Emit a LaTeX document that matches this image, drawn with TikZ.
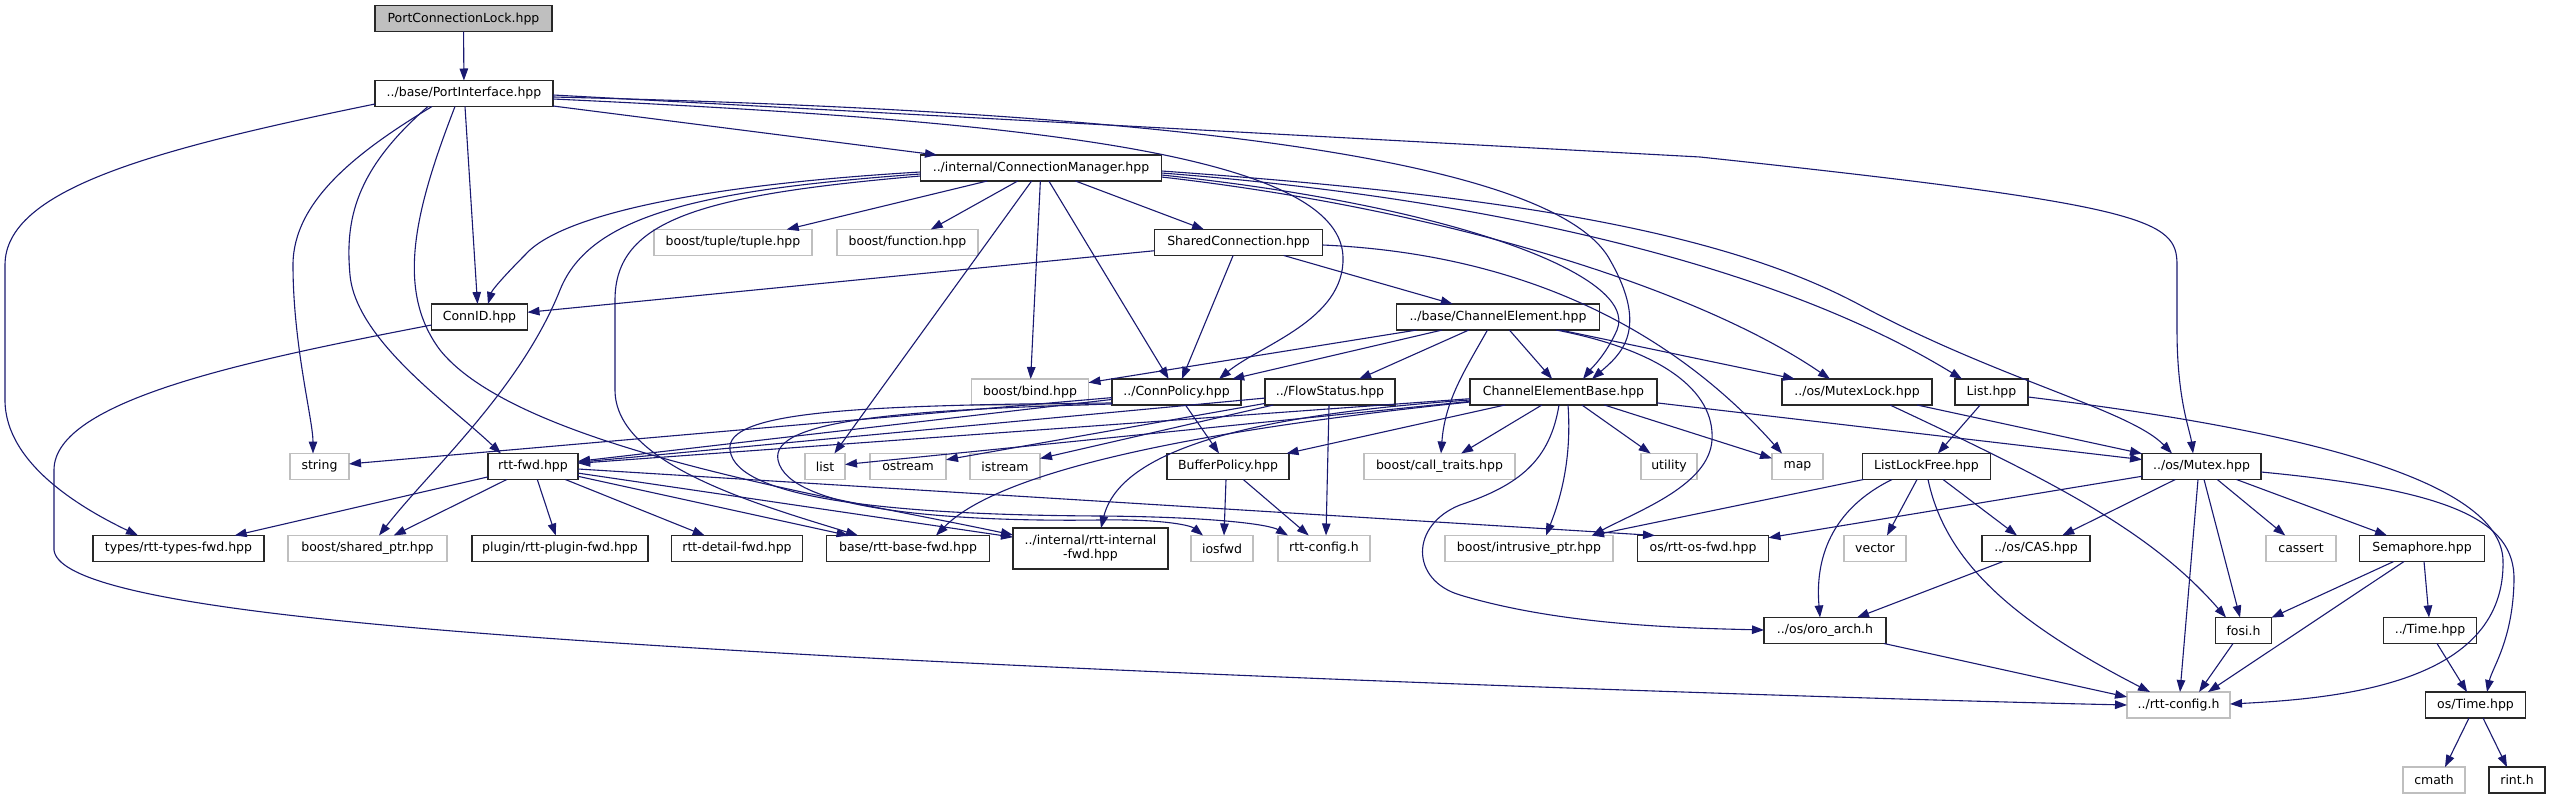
\documentclass[tikz,border=0pt]{standalone}
\usepackage{fontspec}
\setmainfont{DejaVu Sans}
\usetikzlibrary{arrows.meta}
\definecolor{edgec}{RGB}{25,25,112}
\definecolor{grayb}{RGB}{191,191,191}
\definecolor{mainfill}{RGB}{191,191,191}
\definecolor{docb}{RGB}{40,40,40}
\begin{document}
\begin{tikzpicture}[x=1pt,y=-1pt,
  box/.style={rectangle,inner sep=0pt,outer sep=0pt,minimum height=26pt,font=\fontsize{12.5}{14}\selectfont},
  doc/.style={box,draw=docb,line width=1.1pt},
  sys/.style={box,draw=grayb,line width=1.1pt},
  e/.style={draw=edgec,line width=1.1pt,-{Triangle[length=12pt,width=8.5pt]}}]
\useasboundingbox (0,0) rectangle (2550,799);
\fill[white] (0,0) rectangle (2550,799);

% ---- nodes ----
\node[doc,fill=mainfill,minimum width=177pt] (pcl) at (463.5,18.7) {PortConnectionLock.hpp};
\node[doc,minimum width=178pt] (pi) at (464,93.5) {../base/PortInterface.hpp};
\node[doc,minimum width=241pt] (cm) at (1041,168) {../internal/ConnectionManager.hpp};

\node[sys,minimum width=158pt] (tuple) at (733,242.5) {boost/tuple/tuple.hpp};
\node[sys,minimum width=141pt] (func) at (907.5,242.5) {boost/function.hpp};
\node[doc,minimum width=168pt] (shc) at (1238.5,242.5) {SharedConnection.hpp};

\node[doc,minimum width=96pt] (connid) at (479.5,317) {ConnID.hpp};
\node[doc,minimum width=203pt] (che) at (1498,317) {../base/ChannelElement.hpp};

\node[sys,minimum width=117pt] (bind) at (1030,392) {boost/bind.hpp};
\node[doc,minimum width=129pt] (cpol) at (1176.5,392) {../ConnPolicy.hpp};
\node[doc,minimum width=130pt] (flow) at (1330,392) {../FlowStatus.hpp};
\node[doc,minimum width=187pt] (ceb) at (1563.5,392) {ChannelElementBase.hpp};
\node[doc,minimum width=150pt] (mlock) at (1857,392) {../os/MutexLock.hpp};
\node[doc,minimum width=73pt] (list) at (1991.5,392) {List.hpp};

\node[sys,minimum width=59pt] (string) at (319.5,466.5) {string};
\node[doc,minimum width=90pt] (rttfwd) at (533,466.5) {rtt-fwd.hpp};
\node[sys,minimum width=40pt] (lst) at (825,466.5) {list};
\node[sys,minimum width=76pt] (ostream) at (908,466.5) {ostream};
\node[sys,minimum width=70pt] (istream) at (1005,466.5) {istream};
\node[doc,minimum width=122pt] (bpol) at (1228,466.5) {BufferPolicy.hpp};
\node[sys,minimum width=151pt] (ctraits) at (1439.5,466.5) {boost/call\_traits.hpp};
\node[sys,minimum width=56pt] (utility) at (1669,466.5) {utility};
\node[sys,minimum width=51pt] (map) at (1797.5,466.5) {map};
\node[doc,minimum width=128pt] (llf) at (1926.5,466.5) {ListLockFree.hpp};
\node[doc,minimum width=119pt] (mutex) at (2201.5,466.5) {../os/Mutex.hpp};

\node[doc,minimum width=171pt] (typesfwd) at (178.5,548.5) {types/rtt-types-fwd.hpp};
\node[sys,minimum width=159pt] (sptr) at (367.5,548.5) {boost/shared\_ptr.hpp};
\node[doc,minimum width=176pt] (pluginfwd) at (560,548.5) {plugin/rtt-plugin-fwd.hpp};
\node[doc,minimum width=131pt] (detailfwd) at (737,548.5) {rtt-detail-fwd.hpp};
\node[doc,minimum width=163pt] (basefwd) at (908,548.5) {base/rtt-base-fwd.hpp};
\node[doc,minimum width=155pt,minimum height=41pt,align=center] (intfwd) at (1090.5,548.5) {../internal/rtt-internal\\-fwd.hpp};
\node[sys,minimum width=62pt] (iosfwd) at (1222,548.5) {iosfwd};
\node[sys,minimum width=92pt] (rttcfg) at (1324,548.5) {rtt-config.h};
\node[sys,minimum width=168pt] (iptr) at (1529,548.5) {boost/intrusive\_ptr.hpp};
\node[doc,minimum width=131pt] (osfwd) at (1703,548.5) {os/rtt-os-fwd.hpp};
\node[sys,minimum width=62pt] (vector) at (1875,548.5) {vector};
\node[doc,minimum width=108pt] (cas) at (2036,548.5) {../os/CAS.hpp};
\node[sys,minimum width=70pt] (cassert) at (2301,548.5) {cassert};
\node[doc,minimum width=125pt] (sem) at (2422,548.5) {Semaphore.hpp};

\node[doc,minimum width=122pt] (oro) at (1825,630.5) {../os/oro\_arch.h};
\node[doc,minimum width=56pt] (fosi) at (2243.5,630.5) {fosi.h};
\node[doc,minimum width=93pt] (time1) at (2430,630.5) {../Time.hpp};

\node[sys,minimum width=103pt] (rcfg2) at (2178.5,705) {../rtt-config.h};
\node[doc,minimum width=100pt] (ostime) at (2475.5,705) {os/Time.hpp};

\node[sys,minimum width=62pt] (cmath) at (2434,780) {cmath};
\node[doc,minimum width=56pt] (rint) at (2517,780) {rint.h};

% ---- edges ----
\draw[e] (pcl) -- (pi);

% PortInterface
\draw[e] (pi.west |- 0,104) .. controls (150,150) and (5,190) .. (5,265) -- (5,400) .. controls (5,465) and (85,510) .. (typesfwd.north -| 138,0);
\draw[e] (pi.south -| 432,0) .. controls (360,150) and (293,200) .. (293,265) .. controls (293,345) and (313,420) .. (string.north -| 313,0);
\draw[e] (pi.south -| 428,0) .. controls (355,170) and (345,220) .. (350,275) .. controls (356,340) and (450,405) .. (rttfwd.north -| 501,0);
\draw[e] (pi.south -| 455,0) .. controls (415,210) and (395,290) .. (440,350) .. controls (520,450) and (850,500) .. (intfwd.west |- 0,535);
\draw[e] (pi.south -| 465,0) -- (connid.north -| 477.5,0);
\draw[e] (pi.east |- 0,106) -- (cm.north -| 937,0);
\draw[e] (pi.east |- 0,99) .. controls (1000,120) and (1340,150) .. (1343,257) .. controls (1345,320) and (1260,345) .. (cpol.north -| 1219,0);
\draw[e] (pi.east |- 0,97) .. controls (1100,110) and (1550,150) .. (1610,260) .. controls (1650,330) and (1620,355) .. (ceb.north -| 1592,0);
\draw[e] (pi.east |- 0,95) -- (1700,157) .. controls (2150,205) and (2177,220) .. (2177,265) -- (2177,330) .. controls (2177,400) and (2190,430) .. (mutex.north -| 2193,0);

% ConnectionManager
\draw[e] (cm.west |- 0,172) .. controls (700,185) and (560,215) .. (525,255) .. controls (505,275) and (492,290) .. (connid.north -| 488,0);
\draw[e] (cm.west |- 0,174) .. controls (700,190) and (590,215) .. (560,290) .. controls (520,390) and (430,470) .. (sptr.north -| 379,0);
\draw[e] (cm.west |- 0,176) .. controls (700,195) and (615,220) .. (615,300) -- (615,390) .. controls (615,465) and (760,505) .. (basefwd.north -| 858,0);
\draw[e] (cm) -- (tuple);
\draw[e] (cm) -- (func);
\draw[e] (cm) -- (bind);
\draw[e] (cm) -- (lst);
\draw[e] (cm) -- (cpol);
\draw[e] (cm) -- (shc);
\draw[e] (cm.east |- 0,175) .. controls (1450,205) and (1640,275) .. (1617,330) .. controls (1606,355) and (1590,370) .. (ceb.north -| 1583,0);
\draw[e] (cm.east |- 0,177) .. controls (1450,210) and (1700,290) .. (mlock.north -| 1830,0);
\draw[e] (cm.east |- 0,173) .. controls (1450,195) and (1760,255) .. (list.north -| 1962,0);
\draw[e] (cm.east |- 0,171) .. controls (1500,195) and (1720,230) .. (1860,305) .. controls (2000,380) and (2130,410) .. (mutex.north -| 2172,0);

% SharedConnection
\draw[e] (shc) -- (connid);
\draw[e] (shc) -- (cpol);
\draw[e] (shc) -- (che);
\draw[e] (shc.east |- 0,245) .. controls (1550,255) and (1690,350) .. (map.north -| 1782,0);

% ChannelElement
\draw[e] (che) -- (bind);
\draw[e] (che) -- (cpol);
\draw[e] (che) -- (flow);
\draw[e] (che.south -| 1487.5,0) .. controls (1465,370) and (1445,400) .. (ctraits.north -| 1441,0);
\draw[e] (che) -- (ceb);
\draw[e] (che) -- (mlock);
\draw[e] (che.south -| 1556,0) .. controls (1660,350) and (1715,390) .. (1712,440) .. controls (1709,485) and (1640,510) .. (iptr.north -| 1592,0);

% ChannelElementBase
\draw[e] (ceb) -- (rttfwd);
\draw[e] (ceb) -- (lst);
\draw[e] (ceb.west |- 0,402) .. controls (1200,430) and (1000,470) .. (basefwd.north -| 936,0);
\draw[e] (ceb.west |- 0,400) .. controls (1250,415) and (1120,450) .. (intfwd.north -| 1101,0);
\draw[e] (ceb) -- (bpol);
\draw[e] (ceb) -- (ctraits);
\draw[e] (ceb.south -| 1559,0) .. controls (1550,460) and (1520,485) .. (1460,505) .. controls (1410,525) and (1410,580) .. (1460,595) .. controls (1560,625) and (1680,628) .. (oro.west |- 0,630);
\draw[e] (ceb.south -| 1568,0) .. controls (1572,460) and (1560,500) .. (iptr.north -| 1546,0);
\draw[e] (ceb) -- (utility);
\draw[e] (ceb) -- (map);
\draw[e] (ceb) -- (mutex);

% ConnPolicy
\draw[e] (cpol) -- (string);
\draw[e] (cpol) -- (rttfwd);
\draw[e] (cpol) -- (bpol);
\draw[e] (cpol.west |- 0,404) .. controls (900,410) and (770,420) .. (778,460) .. controls (788,510) and (950,522) .. (1100,520) .. controls (1160,519) and (1190,525) .. (iosfwd.north -| 1203,0);
\draw[e] (cpol.west |- 0,403) .. controls (850,405) and (725,412) .. (730,450) .. controls (736,500) and (900,515) .. (1100,516) .. controls (1220,517) and (1270,525) .. (rttcfg.north -| 1288,0);

% FlowStatus
\draw[e] (flow) -- (rttfwd);
\draw[e] (flow) -- (ostream);
\draw[e] (flow) -- (istream);
\draw[e] (flow.south -| 1329,0) -- (rttcfg.north -| 1326,0);

% BufferPolicy
\draw[e] (bpol.south -| 1226,0) -- (iosfwd.north -| 1224,0);
\draw[e] (bpol) -- (rttcfg);

% rtt-fwd
\draw[e] (rttfwd) -- (typesfwd);
\draw[e] (rttfwd) -- (sptr);
\draw[e] (rttfwd) -- (pluginfwd);
\draw[e] (rttfwd) -- (detailfwd);
\draw[e] (rttfwd) -- (basefwd);
\draw[e] (rttfwd) -- (intfwd);
\draw[e] (rttfwd.east |- 0,469) -- (osfwd.north -| 1655,0);

% ConnID
\draw[e] (connid.west |- 0,325) .. controls (250,360) and (54,400) .. (54,470) -- (54,550) .. controls (60,605) and (400,632) .. (850,657) .. controls (1300,681) and (1900,700) .. (rcfg2.west |- 0,705);

% List
\draw[e] (list) -- (llf);
\draw[e] (list.east |- 0,397) .. controls (2300,430) and (2500,480) .. (2503,560) .. controls (2506,680) and (2350,698) .. (rcfg2.east |- 0,704);

% MutexLock
\draw[e] (mlock) -- (mutex);
\draw[e] (mlock.south -| 1890,0) .. controls (2050,480) and (2150,530) .. (fosi.north -| 2226,0);

% Mutex
\draw[e] (mutex) -- (osfwd);
\draw[e] (mutex) -- (cas);
\draw[e] (mutex.south -| 2198,0) -- (rcfg2.north -| 2180,0);
\draw[e] (mutex.south -| 2204,0) -- (fosi.north -| 2240,0);
\draw[e] (mutex) -- (cassert);
\draw[e] (mutex) -- (sem);
\draw[e] (mutex.east |- 0,472) .. controls (2450,490) and (2515,520) .. (2514,580) .. controls (2513,640) and (2492,668) .. (ostime.north -| 2487,0);

% Semaphore
\draw[e] (sem) -- (fosi);
\draw[e] (sem.south -| 2404,0) -- (rcfg2.north -| 2208,0);
\draw[e] (sem.south -| 2424,0) -- (time1.north -| 2429,0);

% Time
\draw[e] (time1.south -| 2437,0) -- (ostime.north -| 2467,0);
\draw[e] (ostime.south -| 2469,0) -- (cmath.north -| 2445,0);
\draw[e] (ostime.south -| 2483,0) -- (rint.north -| 2507,0);

% ListLockFree
\draw[e] (llf) -- (iptr);
\draw[e] (llf.south -| 1892,0) .. controls (1830,510) and (1815,560) .. (oro.north -| 1820,0);
\draw[e] (llf.south -| 1917,0) -- (vector.north -| 1887,0);
\draw[e] (llf.south -| 1943,0) -- (cas.north -| 2017,0);
\draw[e] (llf.south -| 1928,0) .. controls (1945,560) and (2010,620) .. (rcfg2.north -| 2150,0);

% CAS, oro_arch, fosi
\draw[e] (cas.south -| 2003,0) -- (oro.north -| 1857,0);
\draw[e] (oro.south -| 1884,0) -- (rcfg2.west |- 0,697);
\draw[e] (fosi.south -| 2233,0) -- (rcfg2.north -| 2199,0);
\end{tikzpicture}
\end{document}
